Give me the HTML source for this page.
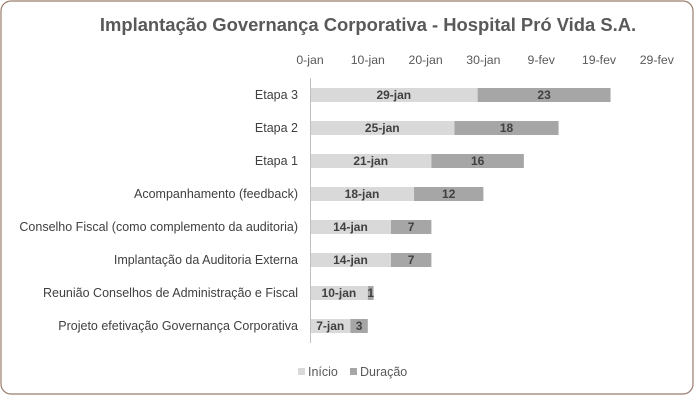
<!DOCTYPE html>
<html><head><meta charset="utf-8"><style>
html,body{margin:0;padding:0;background:#fff;}
svg{display:block;font-family:"Liberation Sans",sans-serif;}
</style></head><body>
<svg id="chart" width="696" height="402" viewBox="0 0 696 402">
<rect x="1" y="1" width="692" height="393" rx="10" fill="#fff" stroke="#9a7d6b" stroke-width="1.2"/>
<text x="368" y="31" text-anchor="middle" font-size="18.4" font-weight="bold" fill="#595959">Implantação Governança Corporativa - Hospital Pró Vida S.A.</text>
<g id="xaxis"></g>
<g id="bars"></g>
<g id="cats"></g>
<line x1="310.5" y1="78" x2="310.5" y2="343" stroke="#bfbfbf" stroke-width="1"/>
<g>
<rect x="298" y="368" width="7" height="7" fill="#d9d9d9"/>
<text x="308" y="376" font-size="12.5" fill="#595959">Início</text>
<rect x="350" y="368" width="7" height="7" fill="#a6a6a6"/>
<text x="360" y="376" font-size="12.5" fill="#595959">Duração</text>
</g>
</svg>
<script>
const categories=["Etapa 3","Etapa 2","Etapa 1","Acompanhamento (feedback)","Conselho Fiscal (como complemento da auditoria)","Implantação da Auditoria Externa","Reunião Conselhos de Administração e Fiscal","Projeto efetivação Governança Corporativa"];
const startDays=[29,25,21,18,14,14,10,7];
const durations=[23,18,16,12,7,7,1,3];
const startLabels=["29-jan","25-jan","21-jan","18-jan","14-jan","14-jan","10-jan","7-jan"];
const tickValues=[0,10,20,30,40,50,60];
const tickLabels=["0-jan","10-jan","20-jan","30-jan","9-fev","19-fev","29-fev"];
const NS="http://www.w3.org/2000/svg";
const x=d=>310+d*5.78;
const y=i=>95+i*33;
function mk(tag,attrs,parent,txt){const e=document.createElementNS(NS,tag);for(const k in attrs)e.setAttribute(k,attrs[k]);if(txt!==undefined)e.textContent=txt;parent.appendChild(e);return e;}
const xa=document.getElementById('xaxis'),bars=document.getElementById('bars'),cats=document.getElementById('cats');
tickValues.forEach((v,i)=>{const t=mk('text',{x:x(v),y:64,'text-anchor':'middle','font-size':12.3,fill:'#595959'},xa,tickLabels[i]);

});
categories.forEach((c,i)=>{
const cy=y(i);
const l=mk('text',{x:298,y:cy+4,'text-anchor':'end','font-size':12.5,fill:'#404040'},cats,c);


const b1=mk('rect',{x:x(0),y:cy-7,width:x(startDays[i])-x(0),height:14,fill:'#d9d9d9'},bars);


const b2=mk('rect',{x:x(startDays[i]),y:cy-7,width:x(durations[i])-x(0),height:14,fill:'#a6a6a6'},bars);


const t1=mk('text',{x:(x(0)+x(startDays[i]))/2,y:cy+4,'text-anchor':'middle','font-size':12,'font-weight':'bold',fill:'#404040'},bars,startLabels[i]);


const t2=mk('text',{x:(x(startDays[i])+x(startDays[i]+durations[i]))/2,y:cy+4,'text-anchor':'middle','font-size':12,'font-weight':'bold',fill:'#404040'},bars,String(durations[i]));


});
</script>
</body></html>
